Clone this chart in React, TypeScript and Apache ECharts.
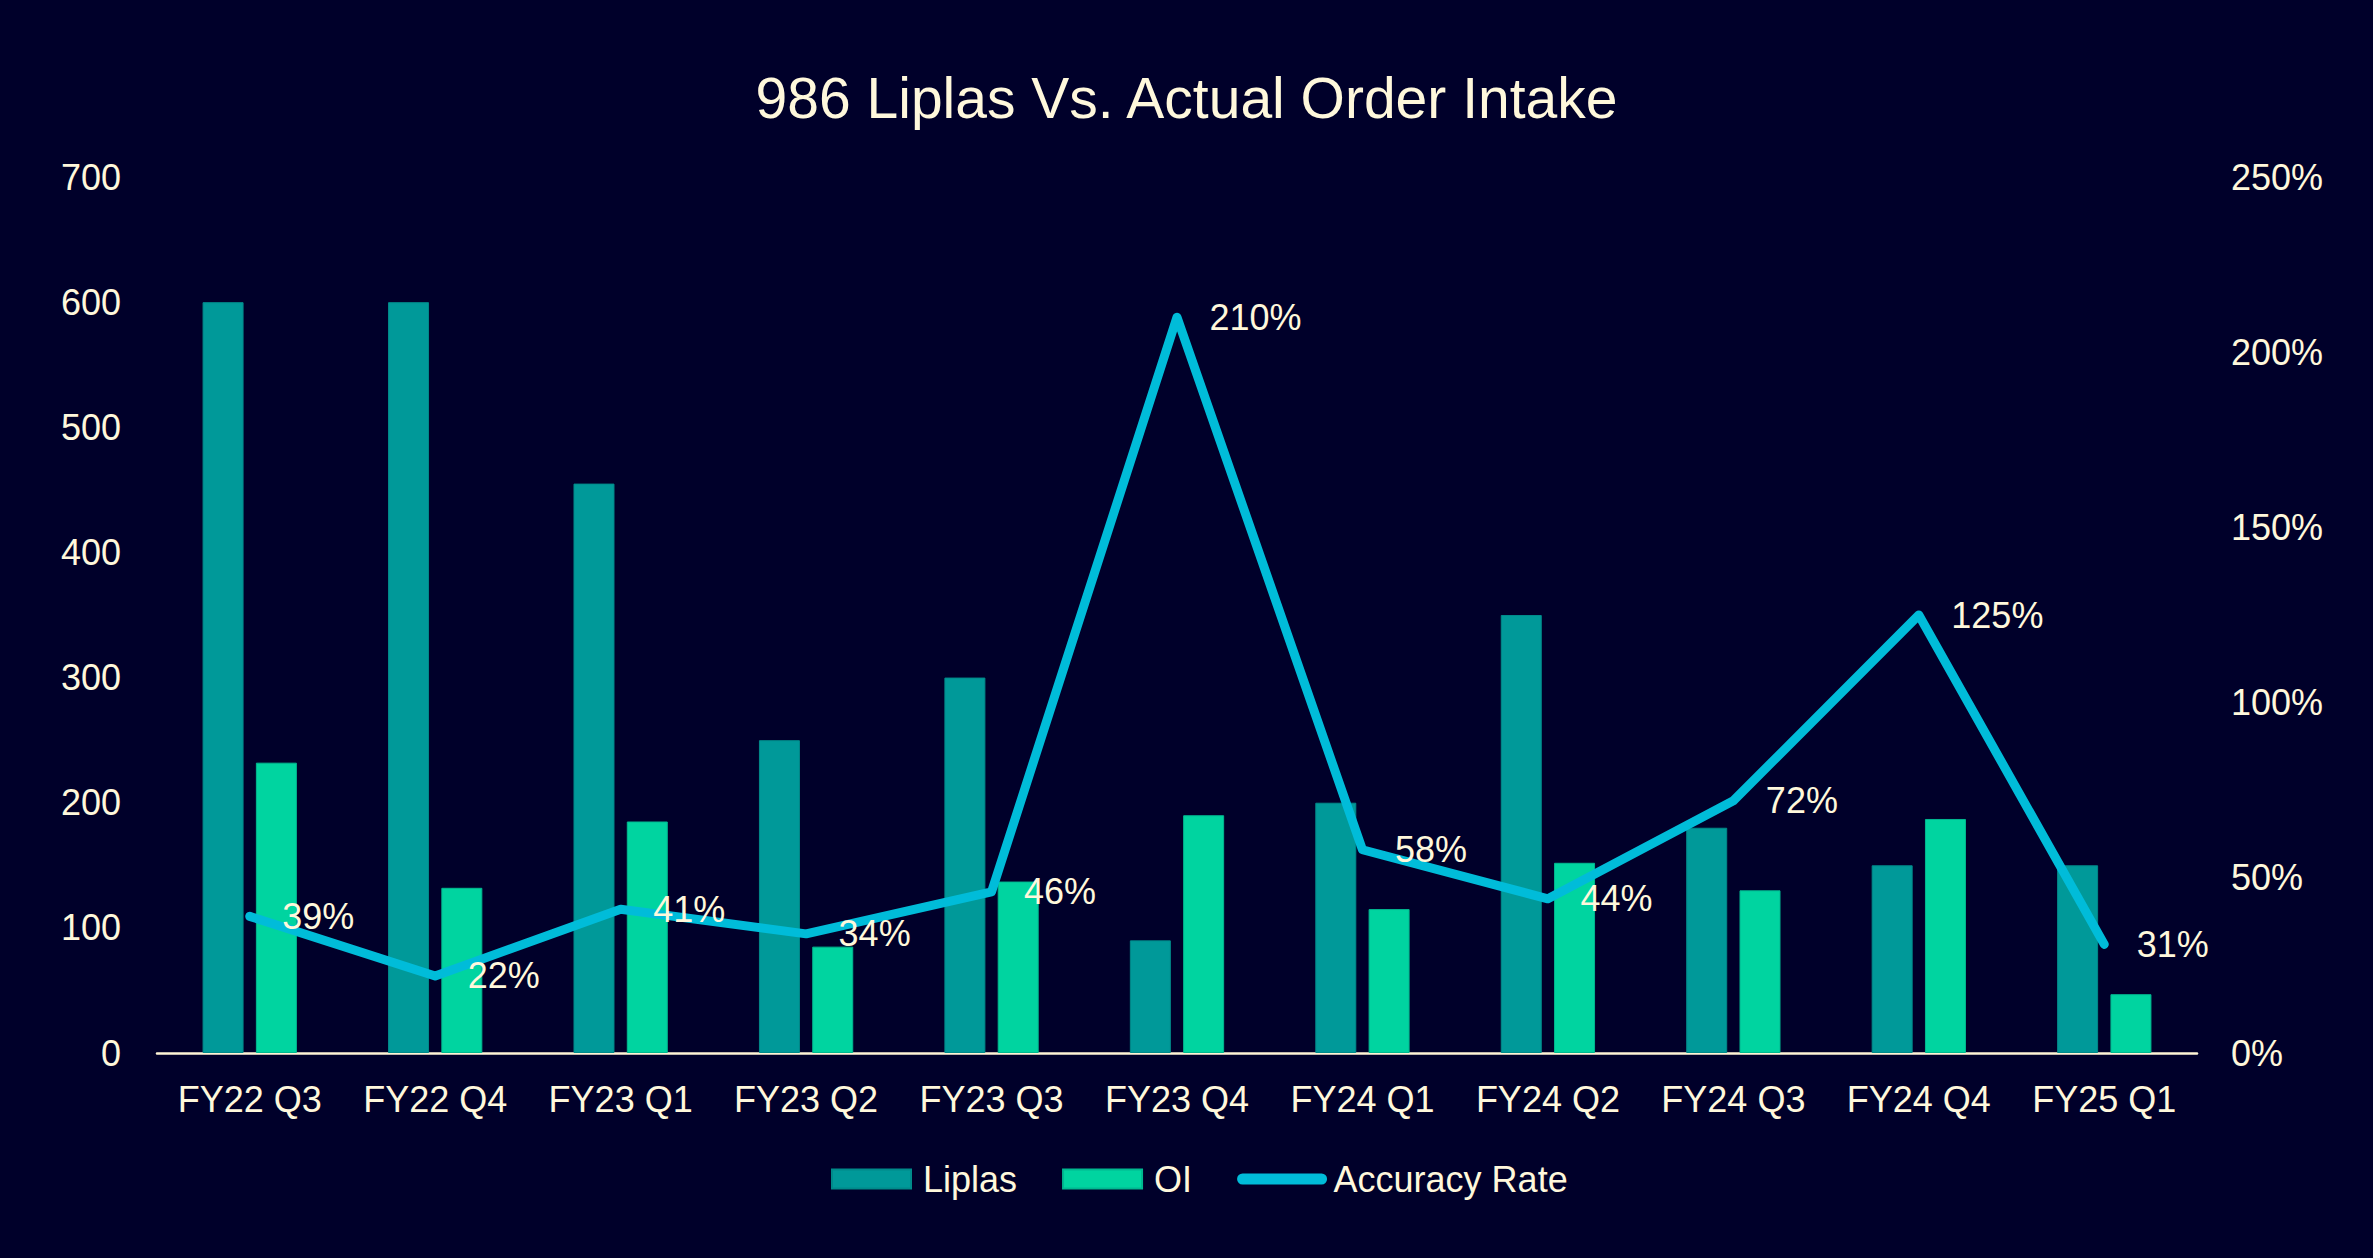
import React, { useEffect, useRef } from "react";
import * as echarts from "echarts";

const categories = ["FY22 Q3", "FY22 Q4", "FY23 Q1", "FY23 Q2", "FY23 Q3", "FY23 Q4", "FY24 Q1", "FY24 Q2", "FY24 Q3", "FY24 Q4", "FY25 Q1"];
const liplas = [600, 600, 455, 250, 300, 90, 200, 350, 180, 150, 150];
const oi = [232, 132, 185, 85, 137, 190, 115, 152, 130, 187, 47];
const accuracy = [0.39, 0.22, 0.41, 0.34, 0.46, 2.1, 0.58, 0.44, 0.72, 1.25, 0.31];
const leftTicks = { min: 0, max: 700, interval: 100 };
const rightTicks = { min: 0, max: 2.5, interval: 0.5 };

const BG = "#00002A";
const TEXT = "#FFF8DC";
const FONT = "'Liberation Sans', Arial, sans-serif";

export default function App() {
  const ref = useRef<HTMLDivElement>(null);
  useEffect(() => {
    document.body.style.margin = "0";
    const chart = echarts.init(ref.current!, null, { renderer: "svg" });
    chart.setOption({
      animation: false,
      backgroundColor: BG,
      textStyle: { fontFamily: FONT, color: TEXT },
      title: {
        text: "986 Liplas Vs. Actual Order Intake",
        left: "center",
        top: 69,
        padding: 0,
        textStyle: { fontFamily: FONT, fontSize: 57, fontWeight: "normal", color: TEXT },
      },
      grid: { left: 157, right: 176, top: 177, bottom: 205, containLabel: false },
      legend: {
        left: 826,
        top: 1156,
        itemWidth: 79,
        itemHeight: 19,
        itemGap: 45,
        textStyle: { fontFamily: FONT, fontSize: 36, color: TEXT, padding: [0, 0, 0, 7] },
        data: [
          { name: "Liplas", icon: "rect" },
          { name: "OI", icon: "rect" },
          { name: "Accuracy Rate", itemStyle: { opacity: 0 }, lineStyle: { width: 11, cap: "round" } },
        ],
      },
      xAxis: {
        type: "category",
        data: categories,
        axisLine: { show: true, lineStyle: { color: "#FFF5D6", width: 2.5 } },
        axisTick: { show: false },
        axisLabel: { color: TEXT, fontSize: 36, fontFamily: FONT, margin: 28, interval: 0 },
        splitLine: { show: false },
      },
      yAxis: [
        {
          type: "value",
          min: leftTicks.min,
          max: leftTicks.max,
          interval: leftTicks.interval,
          axisLine: { show: false },
          axisTick: { show: false },
          splitLine: { show: false },
          axisLabel: { color: TEXT, fontSize: 36, fontFamily: FONT, margin: 36 },
        },
        {
          type: "value",
          min: rightTicks.min,
          max: rightTicks.max,
          interval: rightTicks.interval,
          axisLine: { show: false },
          axisTick: { show: false },
          splitLine: { show: false },
          axisLabel: {
            color: TEXT,
            fontSize: 36,
            fontFamily: FONT,
            margin: 34,
            formatter: (v: number) => Math.round(v * 100) + "%",
          },
        },
      ],
      series: [
        {
          name: "Liplas",
          type: "bar",
          data: liplas,
          barWidth: 41,
          barGap: "30%",
          itemStyle: { color: "#009999", borderColor: "#008A8A", borderWidth: 1 },
        },
        {
          name: "OI",
          type: "bar",
          data: oi,
          barWidth: 41,
          barGap: "30%",
          itemStyle: { color: "#00D4A0", borderColor: "#00B890", borderWidth: 1 },
        },
        {
          name: "Accuracy Rate",
          type: "line",
          yAxisIndex: 1,
          data: accuracy,
          symbol: "circle",
          symbolSize: 1,
          showSymbol: true,
          itemStyle: { color: "#00BCD9" },
          lineStyle: { color: "#00BCD9", width: 9, cap: "round", join: "round" },
          label: {
            show: true,
            position: "right",
            distance: 32,
            color: TEXT,
            fontSize: 36,
            fontFamily: FONT,
            formatter: (p: any) => Math.round(p.value * 100) + "%",
          },
          z: 3,
        },
      ],
    });
    return () => chart.dispose();
  }, []);
  return <div ref={ref} style={{ position: "fixed", left: 0, top: 0, width: 2373, height: 1258 }} />;
}
